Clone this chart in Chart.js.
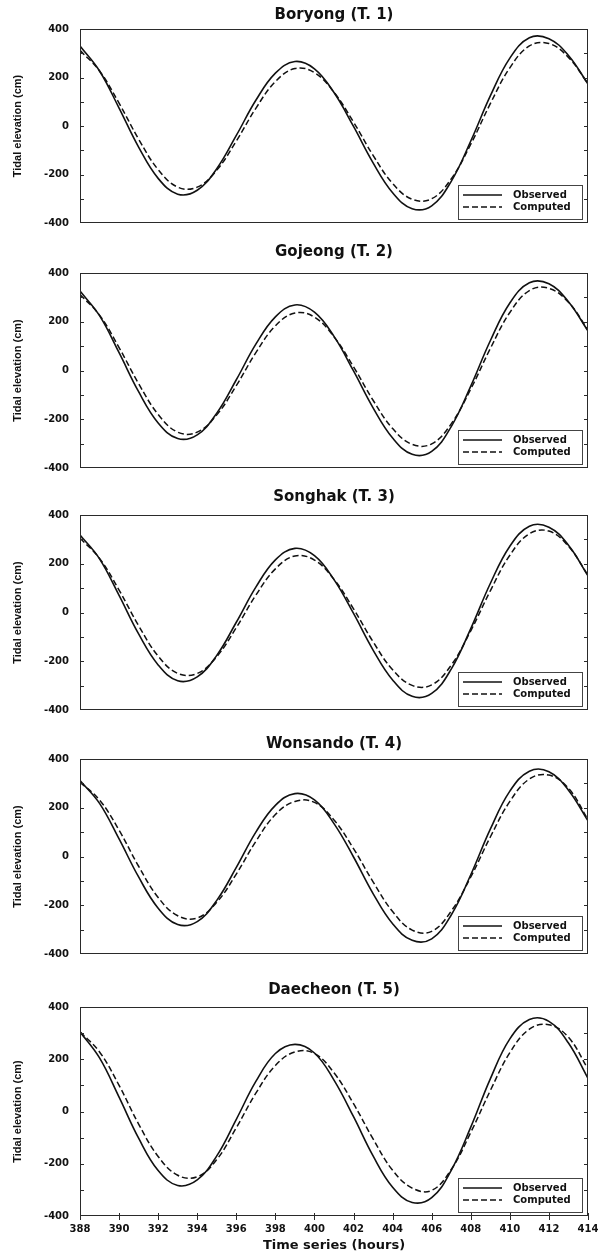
<!DOCTYPE html>
<html>
<head>
<meta charset="utf-8">
<script src="https://cdn.jsdelivr.net/npm/chart.js@4.4.1/dist/chart.umd.min.js"></script>
<style>
    body { margin: 0; background: #fff; }
    #figura { position: relative; width: 611px; height: 1259px; }
    #figura canvas { position: absolute; left: 0; }
</style>
</head>
<body>
<div id="figura"></div>
<script>
// DATOS (cm), una lectura por hora

const horas = [388, 389, 390, 391, 392, 393, 394, 395, 396, 397, 398, 399, 400, 401,
               402, 403, 404, 405, 406, 407, 408, 409, 410, 411, 412, 413, 414];

const estaciones = ['Boryong (T. 1)', 'Gojeong (T. 2)', 'Songhak (T. 3)', 'Wonsando (T. 4)', 'Daecheon (T. 5)'];
const nombresSeries = ['Observed', 'Computed'];

const observado1 = [330, 227, 74, -87, -216, -281, -265, -176, -39, 106, 218, 266, 236, 138, -2, -152, -275, -341, -329, -228, -62, 124, 280, 364, 360, 291, 173];
const calculado1 = [312, 227, 94, -54, -180, -252, -252, -182, -62, 73, 183, 237, 220, 139, 16, -121, -237, -302, -300, -218, -75, 92, 240, 330, 340, 283, 175];

const observado2 = [326, 225, 73, -87, -215, -279, -264, -175, -38, 108, 220, 269, 239, 140, -2, -153, -277, -344, -332, -230, -64, 122, 277, 360, 356, 282, 162];
const calculado2 = [312, 227, 94, -54, -180, -253, -253, -182, -62, 73, 183, 236, 219, 138, 15, -122, -238, -303, -301, -219, -76, 90, 238, 328, 337, 280, 166];

const observado3 = [318, 220, 70, -88, -215, -280, -264, -176, -40, 104, 216, 263, 233, 135, -4, -154, -277, -344, -332, -232, -66, 119, 272, 354, 350, 276, 150];
const calculado3 = [305, 222, 92, -54, -179, -250, -250, -181, -62, 71, 179, 232, 215, 136, 15, -120, -235, -299, -297, -216, -75, 89, 235, 323, 334, 272, 153];

const observado4 = [312, 218, 72, -84, -212, -279, -267, -180, -45, 100, 210, 258, 232, 135, -2, -152, -276, -344, -338, -240, -75, 112, 268, 350, 348, 272, 146];
const calculado4 = [305, 232, 108, -40, -168, -243, -252, -188, -72, 62, 172, 226, 222, 150, 32, -104, -226, -302, -307, -224, -84, 80, 226, 318, 334, 280, 152];

const observado5 = [305, 205, 55, -102, -226, -283, -262, -170, -30, 115, 222, 257, 224, 120, -20, -170, -290, -348, -330, -225, -60, 125, 278, 352, 345, 262, 127];
const calculado5 = [305, 228, 100, -48, -172, -244, -250, -184, -62, 70, 176, 228, 222, 148, 30, -105, -225, -293, -302, -222, -80, 80, 225, 315, 332, 284, 163];

const ticksY = [-400, -200, 0, 200, 400];
const ticksYMenores = [-300, -200, -100, 0, 100, 200, 300];
const ticksX = [388, 390, 392, 394, 396, 398, 400, 402, 404, 406, 408, 410, 412, 414];

const observados = [observado1, observado2, observado3, observado4, observado5];
const calculados = [calculado1, calculado2, calculado3, calculado4, calculado5];

// Posición de cada panel en la figura (px)
const paneles = [
    { arriba: 29,   abajo: 232,  hueco: 14 },
    { arriba: 273,  abajo: 477,  hueco: 21 },
    { arriba: 515,  abajo: 719,  hueco: 18 },
    { arriba: 759,  abajo: 963,  hueco: 15 },
    { arriba: 1007, abajo: 1216, hueco: 17 }
];

const fuenteNegrita = "'DejaVu Sans', sans-serif";
const fuenteEje = "'Liberation Sans', Arial, sans-serif";

// marco + ticks hacia dentro
const pluginMarco = {
    id: 'marco',
    afterDatasetsDraw(chart, args, opts) {
        const { ctx, chartArea: a, scales } = chart;
        ctx.save();
        ctx.strokeStyle = '#2a2a2a';
        ctx.lineWidth = 1;
        ctx.strokeRect(a.left + 0.5, a.top + 0.5, a.right - a.left - 1, a.bottom - a.top - 1);
        ctx.beginPath();
        ticksYMenores.forEach(v => {
            const y = Math.round(scales.y.getPixelForValue(v)) + 0.5;
            ctx.moveTo(a.left, y);
            ctx.lineTo(a.left + 4, y);
            ctx.moveTo(a.right, y);
            ctx.lineTo(a.right - 4, y);
        });
        if (opts.ticksAbajo) {
            ticksX.forEach(h => {
                const x = Math.round(scales.x.getPixelForValue(h)) + 0.5;
                ctx.moveTo(x, a.bottom - 3);
                ctx.lineTo(x, a.bottom + 4);
            });
        }
        ctx.stroke();
        ctx.restore();
    }
};

// leyenda dentro del área, abajo a la derecha
const pluginLeyenda = {
    id: 'leyendaInterior',
    afterDraw(chart) {
        const { ctx, chartArea: a } = chart;
        const ancho = 124, alto = 34;
        const x0 = a.right - 6 - ancho;
        const y0 = a.bottom - 4 - alto;
        ctx.save();
        ctx.fillStyle = '#fff';
        ctx.fillRect(x0, y0, ancho, alto);
        ctx.strokeStyle = '#444';
        ctx.lineWidth = 1;
        ctx.strokeRect(x0 + 0.5, y0 + 0.5, ancho, alto);
        ctx.font = 'bold 10px ' + fuenteNegrita;
        ctx.textBaseline = 'middle';
        chart.data.datasets.forEach((ds, i) => {
            const y = y0 + 10 + i * 12;
            ctx.beginPath();
            ctx.strokeStyle = ds.borderColor;
            ctx.lineWidth = ds.borderWidth;
            ctx.setLineDash(ds.borderDash || []);
            ctx.moveTo(x0 + 5, y);
            ctx.lineTo(x0 + 44, y);
            ctx.stroke();
            ctx.setLineDash([]);
            ctx.fillStyle = '#111';
            ctx.fillText(ds.label, x0 + 55, y);
        });
        ctx.restore();
    }
};

function crearPanel(i) {
    const p = paneles[i];
    const ultimo = i === paneles.length - 1;
    const margenAbajo = ultimo ? 1259 - p.abajo : 8;
    const canvas = document.createElement('canvas');
    const alto = p.abajo - p.arriba + 30 + margenAbajo;
    canvas.width = 611;
    canvas.height = alto;
    canvas.style.width = '611px';
    canvas.style.height = alto + 'px';
    canvas.style.top = (p.arriba - 30) + 'px';
    document.getElementById('figura').appendChild(canvas);

    new Chart(canvas.getContext('2d'), {
        type: 'line',
        data: {
            datasets: [
                {
                    label: nombresSeries[0],
                    data: horas.map((h, k) => ({ x: h, y: observados[i][k] })),
                    borderColor: '#111',
                    borderWidth: 1.6,
                    pointRadius: 0,
                    tension: 0.4,
                    fill: false
                },
                {
                    label: nombresSeries[1],
                    data: horas.map((h, k) => ({ x: h, y: calculados[i][k] })),
                    borderColor: '#111',
                    borderWidth: 1.5,
                    borderDash: [6, 3],
                    pointRadius: 0,
                    tension: 0.4,
                    fill: false
                }
            ]
        },
        options: {
            responsive: false,
            animation: false,
            devicePixelRatio: 1,
            layout: { padding: { left: 0, right: 23, top: 0, bottom: 0 } },
            plugins: {
                legend: { display: false },
                tooltip: { enabled: false },
                title: {
                    display: true,
                    text: estaciones[i],
                    fullSize: false,
                    color: '#111',
                    font: { family: fuenteNegrita, size: 15, weight: 'bold', lineHeight: 1.2 },
                    padding: { top: 30 - p.hueco - 9, bottom: p.hueco - 9 }
                },
                marco: { ticksAbajo: ultimo }
            },
            scales: {
                x: {
                    type: 'linear',
                    min: horas[0],
                    max: horas[horas.length - 1],
                    afterBuildTicks: s => { s.ticks = ticksX.map(v => ({ value: v })); },
                    afterFit: s => { s.height = margenAbajo; },
                    grid: { display: false, drawTicks: false },
                    border: { display: false },
                    ticks: {
                        display: ultimo,
                        padding: 7,
                        color: '#111',
                        maxRotation: 0,
                        autoSkip: false,
                        font: { family: fuenteNegrita, size: 10, weight: 'bold' }
                    },
                    title: {
                        display: ultimo,
                        text: 'Time series (hours)',
                        color: '#111',
                        font: { family: fuenteNegrita, size: 13, weight: 'bold', lineHeight: 1.2 },
                        padding: { top: 0, bottom: 6 }
                    }
                },
                y: {
                    min: -400,
                    max: 400,
                    afterBuildTicks: s => { s.ticks = ticksY.map(v => ({ value: v })); },
                    afterFit: s => { s.width = 80; },
                    grid: { display: false, drawTicks: false },
                    border: { display: false },
                    ticks: {
                        padding: 11,
                        color: '#111',
                        font: { family: fuenteNegrita, size: 10, weight: 'bold' }
                    },
                    title: {
                        display: true,
                        text: 'Tidal elevation (cm)',
                        color: '#111',
                        font: { family: fuenteEje, size: 11, weight: 'bold', lineHeight: 1.2 },
                        padding: { top: 11, bottom: 0 }
                    }
                }
            }
        },
        plugins: [pluginMarco, pluginLeyenda]
    });
}

document.addEventListener('DOMContentLoaded', function() {
    paneles.forEach((p, i) => crearPanel(i));
});
</script>
</body>
</html>
